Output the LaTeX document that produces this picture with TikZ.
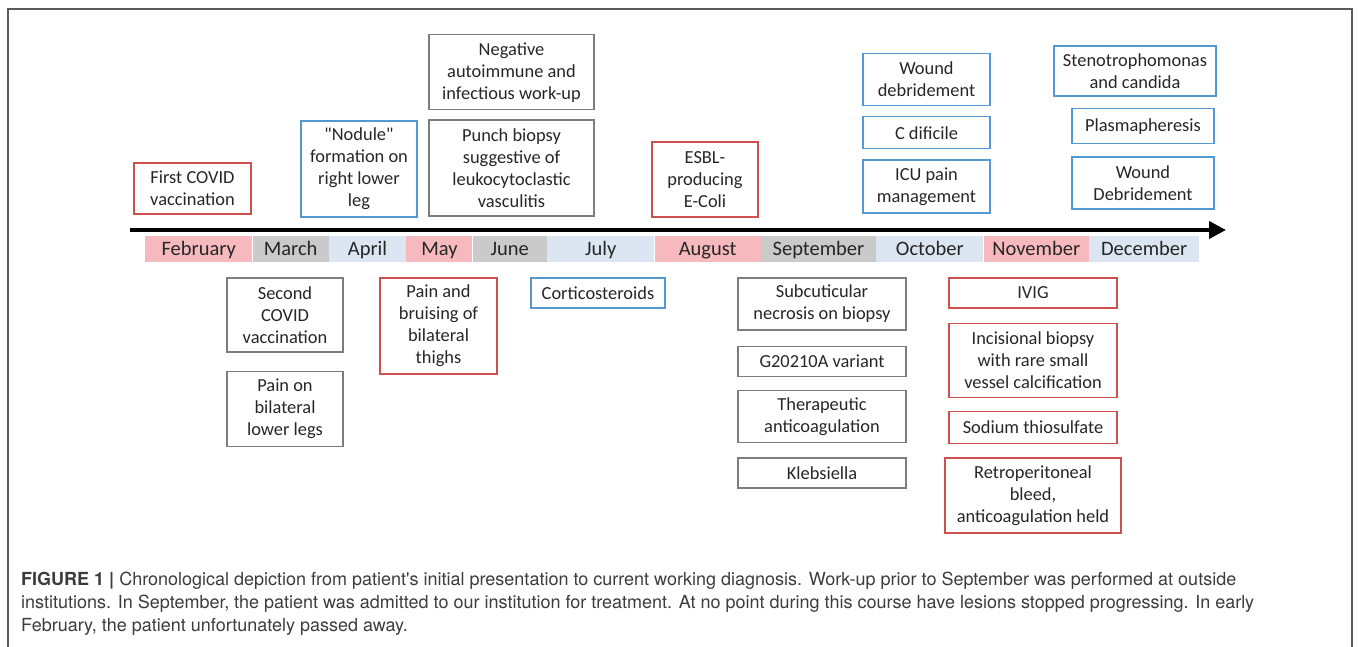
\documentclass[tikz,border=0pt]{standalone}
\usepackage{fontspec}
\setmainfont{Carlito}[Ligatures=TeXOff]
\newfontfamily\capfont{TeX Gyre Heros}
\usetikzlibrary{positioning,arrows.meta}
\definecolor{boxred}{RGB}{208,80,80}
\definecolor{boxblue}{RGB}{84,152,210}
\definecolor{boxgray}{RGB}{125,125,125}
\definecolor{monpink}{RGB}{246,186,190}
\definecolor{mongray}{RGB}{202,202,202}
\definecolor{monblue}{RGB}{220,230,243}
\definecolor{capgray}{RGB}{60,60,60}

\begin{document}
\begin{tikzpicture}[x=1pt, y=-1pt, node distance=13pt,
	box/.style = {draw, line width=1.3pt, align=center, inner sep=1pt, text=black!85, font=\fontsize{18.4}{22}\selectfont},
	redbox/.style = {box, draw=boxred},
	bluebox/.style = {box, draw=boxblue},
	graybox/.style = {box, draw=boxgray},
	month/.style = {minimum height=26pt, text height=13pt, text depth=1pt, inner sep=0pt, anchor=west, text=black!85, font=\fontsize{20.5}{22}\selectfont}]
			\useasboundingbox (0,0) rectangle (1358,647);
			\draw[line width=2pt, black!65] (8,647) -- (8,9) -- (1352,9) -- (1352,647);
			\coordinate (tstart) at (130,230);
			\coordinate (tend) at (1226,230);
			\draw[line width=4pt, -{Triangle[length=17pt,width=17pt]}] (tstart) -- (tend);
			\node[month, fill=monpink, minimum width=107pt] (feb) at (145,249) {February};
			\node[month, fill=mongray, minimum width=76pt] (mar) [right=0pt of feb] {March};
			\node[month, fill=monblue, minimum width=77pt] (apr) [right=0pt of mar] {April};
			\node[month, fill=monpink, minimum width=66pt] (may) [right=0pt of apr] {May};
			\node[month, fill=mongray, minimum width=74pt] (jun) [right=0pt of may] {June};
			\node[month, fill=monblue, minimum width=107pt] (jul) [right=0pt of jun] {July};
			\node[month, fill=monpink, minimum width=106pt] (aug) [right=0pt of jul] {August};
			\node[month, fill=mongray, minimum width=115pt] (sep) [right=0pt of aug] {September};
			\node[month, fill=monblue, minimum width=107pt] (oct) [right=0pt of sep] {October};
			\node[month, fill=monpink, minimum width=105pt] (nov) [right=0pt of oct] {November};
			\node[month, fill=monblue, minimum width=110pt] (dec) [right=0pt of nov] {December};
			\node[redbox, minimum width=117pt, minimum height=51pt] (first) at (192.5,188.5) {First COVID\\vaccination};
			\node[bluebox, minimum width=116pt, minimum height=96pt] (nodule) at (359,169) {"Nodule"\\formation on\\right lower\\leg};
			\node[graybox, minimum width=165pt, minimum height=96pt] (punch) at (511.5,168) {Punch biopsy\\suggestive of\\leukocytoclastic\\vasculitis};
			\node[graybox, minimum width=165pt, minimum height=75pt] (neg) [above=9pt of punch] {Negative\\autoimmune and\\infectious work-up};
			\node[redbox, minimum width=106pt, minimum height=75pt] (esbl) at (705,179.5) {ESBL-\\producing\\E-Coli};
			\node[bluebox, minimum width=127pt, minimum height=53pt] (icu) at (926.5,186.5) {ICU pain\\management};
			\node[bluebox, minimum width=127pt, minimum height=32pt] (cdif) [above=10pt of icu] {C dificile};
			\node[bluebox, minimum width=127pt, minimum height=52pt] (wound) [above=10pt of cdif] {Wound\\debridement};
			\node[bluebox, minimum width=142pt, minimum height=52pt] (wdeb) at (1143,183) {Wound\\Debridement};
			\node[bluebox, minimum width=142pt, minimum height=35pt] (plasma) [above=12pt of wdeb] {Plasmapheresis};
			\node[bluebox, minimum width=162pt, minimum height=50pt] (steno) at (1135,71) {Stenotrophomonas\\and candida};
			\node[graybox, minimum width=116pt, minimum height=74pt] (second) at (285,315) {Second\\COVID\\vaccination};
			\node[graybox, minimum width=116pt, minimum height=75pt] (painleg) [below=18pt of second] {Pain on\\bilateral\\lower legs};
			\node[redbox, minimum width=117pt, minimum height=96pt] (thighs) at (438.5,326) {Pain and\\bruising of\\bilateral\\thighs};
			\node[bluebox, minimum width=134pt, minimum height=30pt] (cortico) at (598,293) {Corticosteroids};
			\node[graybox, minimum width=168pt, minimum height=52pt] (subcut) at (822,304) {Subcuticular\\necrosis on biopsy};
			\node[graybox, minimum width=168pt, minimum height=30pt] (variant) [below=15pt of subcut] {G20210A variant};
			\node[graybox, minimum width=168pt, minimum height=52pt] (thera) [below=13pt of variant] {Therapeutic\\anticoagulation};
			\node[graybox, minimum width=168pt, minimum height=30pt] (kleb) [below=14pt of thera] {Klebsiella};
			\node[redbox, minimum width=168pt, minimum height=30pt] (ivig) at (1033,293) {IVIG};
			\node[redbox, minimum width=168pt, minimum height=74pt] (incis) [below=14pt of ivig] {Incisional biopsy\\with rare small\\vessel calcification};
			\node[redbox, minimum width=168pt, minimum height=32pt] (sodium) [below=13pt of incis] {Sodium thiosulfate};
			\node[redbox, minimum width=176pt, minimum height=75pt] (retro) [below=13pt of sodium] {Retroperitoneal\\bleed,\\anticoagulation held};
			\node[anchor=north west, inner sep=0pt, align=left, text=capgray, font=\capfont\fontsize{18}{23}\selectfont] (caption) at (21,572) {\textbf{FIGURE 1 |} Chronological depiction from patient's initial presentation to current working diagnosis. Work-up prior to September was performed at outside\\institutions. In September, the patient was admitted to our institution for treatment. At no point during this course have lesions stopped progressing. In early\\February, the patient unfortunately passed away.};
		\end{tikzpicture}
\end{document}
